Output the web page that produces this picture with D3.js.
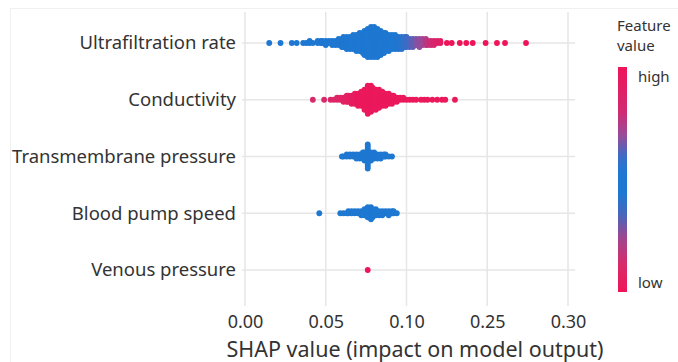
<!DOCTYPE html>
<html>
<head>
<meta charset="utf-8">
<script src="https://cdn.jsdelivr.net/npm/d3@7"></script>
<style>
  body { margin: 0; background: #fff; }
  svg { display: block; font-family: "Noto Sans", "Open Sans", sans-serif; }
</style>
</head>
<body>
<div id="chart"></div>
<script>
// features, top row first
const features = ["Ultrafiltration rate", "Conductivity", "Transmembrane pressure", "Blood pump speed", "Venous pressure"];

// x ticks (the printed labels are not evenly spaced values)
const tickValues = [0, 0.05, 0.10, 0.15, 0.20];
const tickLabels = ["0.00", "0.05", "0.10", "0.25", "0.30"];

// SHAP values read off the swarm + how many dots are stacked at each one
// feature values: 0 = low, 1 = high
const ufShap = [0.015,0.022,0.029,0.032,0.036,0.038,0.040,0.042,0.045,0.047,0.048,0.050,0.052,0.054,0.056,0.058,0.060,0.061,0.063,0.065,
  0.067,0.069,0.071,0.073,0.074,0.076,0.078,0.080,0.082,0.084,0.086,0.087,0.089,0.091,0.093,0.095,0.097,0.099,0.100,0.102,
  0.104,0.106,0.108,0.110,0.112,0.113,0.115,0.117,0.119,0.121,0.125,0.128,0.133,0.137,0.141,0.149,0.156,0.161,0.174];
const ufCount = [1,1,1,1,1,1,2,1,2,2,2,3,2,3,3,4,5,6,7,7,
  8,9,10,11,13,15,16,16,15,13,11,10,9,8,8,7,7,6,6,5,
  5,4,5,4,4,3,3,3,2,2,1,1,1,1,1,1,1,1,1];
const ufFeature = [0.5,0.5,0.5,0.5,0.5,0.5,0.5,0.5,0.5,0.5,0.5,0.5,0.5,0.5,0.5,0.5,0.5,0.5,0.5,0.5,
  0.5,0.5,0.5,0.5,0.5,0.5,0.5,0.5,0.5,0.5,0.5,0.5,0.5,0.5,0.52,0.54,0.56,0.58,0.6,0.62,
  0.64,0.67,0.69,0.71,0.74,0.77,0.8,0.84,0.88,0.92,1,1,1,1,1,1,1,1,1];

const cdShap = [0.042,0.049,0.053,0.055,0.057,0.059,0.061,0.063,0.064,0.066,0.068,0.070,0.072,0.074,0.076,0.078,0.079,0.081,0.083,0.085,
  0.087,0.089,0.091,0.092,0.094,0.096,0.098,0.100,0.102,0.104,0.106,0.109,0.111,0.113,0.116,0.119,0.122,0.124,0.130];
const cdCount = [1,1,1,1,2,2,3,4,4,5,6,7,8,11,15,14,12,11,10,8,
  7,6,5,4,3,2,2,1,1,1,1,1,1,1,1,1,1,1,1];
const cdFeature = [0.12,0.12,0.1,0.1,0.1,0.08,0.08,0.06,0.06,0.05,0.04,0.02,0.02,0.02,0.02,0.02,0.02,0.02,0.02,0.02,
  0.02,0.02,0.02,0.02,0.02,0.02,0.02,0.02,0.02,0.02,0.02,0.02,0.02,0.02,0.02,0.02,0.02,0.02,0.02];

const tmShap = [0.060,0.061,0.063,0.065,0.067,0.069,0.071,0.073,0.074,0.076,0.078,0.080,0.082,0.084,0.086,0.087,0.089,0.091];
const tmCount = [1,1,2,2,2,3,3,4,5,13,5,4,3,3,2,2,1,1];
const tmFeature = 0.5;

const bpShap = [0.046,0.059,0.061,0.063,0.064,0.066,0.068,0.070,0.072,0.074,0.076,0.078,0.079,0.081,0.083,0.085,0.087,0.089,0.091,0.092,0.094];
const bpCount = [1,1,1,1,2,2,2,2,3,4,6,7,5,4,3,3,2,3,2,2,1];
const bpFeature = 0.5;

const vpShap = [0.076];
const vpCount = [1];
const vpFeature = 1;

const rows = [
  {name: features[0], shap: ufShap, count: ufCount, feat: ufFeature},
  {name: features[1], shap: cdShap, count: cdCount, feat: cdFeature},
  {name: features[2], shap: tmShap, count: tmCount, feat: tmFeature},
  {name: features[3], shap: bpShap, count: bpCount, feat: bpFeature},
  {name: features[4], shap: vpShap, count: vpCount, feat: vpFeature}
];

const width = 678, height = 362;
const textColor = "#333";
const gridColor = "#e6e6e6";

const svg = d3.select("#chart").append("svg")
  .attr("width", width)
  .attr("height", height);

// faint outer frame
svg.append("path")
  .attr("d", "M10.5,400 V8.5 H700")
  .attr("fill", "none")
  .attr("stroke", "#f0f0f0");

const x = d3.scaleLinear().domain([0, 0.2]).range([245, 568]);
const y = d3.scalePoint().domain(features).range([43, 270]);

// colour map: low -> red, middle -> blue, high -> red (s runs top->bottom of the bar)
const stopPos = [0, 0.2, 0.3, 0.4, 0.47, 0.56, 0.66, 0.76, 0.88, 1];
const stopCol = ["#ef1459", "#d02a72", "#9a4a98", "#3a6dc6", "#1e78d2", "#1e78d2", "#4a66ba", "#a0468f", "#d82a6a", "#ef1459"];
const barColor = d3.scaleLinear().domain(stopPos).range(stopCol).interpolate(d3.interpolateRgb);
const color = t => barColor(1 - t);

// grid
svg.append("g").selectAll("line")
  .data(tickValues)
  .enter().append("line")
  .attr("x1", d => x(d)).attr("x2", d => x(d))
  .attr("y1", 12).attr("y2", 306)
  .attr("stroke", gridColor)
  .attr("stroke-width", 1.5);

svg.append("g").selectAll("line")
  .data(features)
  .enter().append("line")
  .attr("x1", 242).attr("x2", 575)
  .attr("y1", d => y(d)).attr("y2", d => y(d))
  .attr("stroke", gridColor)
  .attr("stroke-width", 1.5);

// x axis
const xAxis = svg.append("g")
  .attr("transform", "translate(0,306)")
  .call(d3.axisBottom(x).tickValues(tickValues).tickSize(0)
    .tickFormat((d, i) => tickLabels[i]));
xAxis.select(".domain").remove();
xAxis.selectAll("text")
  .attr("y", 16)
  .attr("dy", "0.35em")
  .attr("fill", textColor)
  .style("font-size", "18px")
  .style("font-family", "Noto Sans, sans-serif");

svg.append("text")
  .attr("x", 415)
  .attr("y", 349)
  .attr("dy", "0.35em")
  .attr("text-anchor", "middle")
  .attr("fill", textColor)
  .style("font-size", "21.5px")
  .text("SHAP value (impact on model output)");

// y axis labels
const yAxis = svg.append("g")
  .attr("transform", "translate(242,0)")
  .call(d3.axisLeft(y).tickSize(0).tickPadding(6));
yAxis.select(".domain").remove();
yAxis.selectAll("text")
  .attr("fill", textColor)
  .style("font-size", "18.5px")
  .style("font-family", "Noto Sans, sans-serif");

// beeswarm: dots with the same value stack alternately up / down
const step = 2, radius = 2.9;
const dots = [];
rows.forEach(row => {
  row.shap.forEach((v, i) => {
    const f = Array.isArray(row.feat) ? row.feat[i] : row.feat;
    for (let k = 0; k < row.count[i]; k++) {
      const off = Math.ceil(k / 2) * (k % 2 ? 1 : -1);
      dots.push({x: x(v), y: y(row.name) - off * step, f: f});
    }
  });
});

svg.append("g").selectAll("circle")
  .data(dots)
  .enter().append("circle")
  .attr("cx", d => d.x)
  .attr("cy", d => d.y)
  .attr("r", radius)
  .attr("fill", d => color(d.f));

// colour bar legend
const grad = svg.append("defs").append("linearGradient")
  .attr("id", "fv")
  .attr("x1", 0).attr("y1", 0).attr("x2", 0).attr("y2", 1);
grad.selectAll("stop")
  .data(stopPos)
  .enter().append("stop")
  .attr("offset", d => d)
  .attr("stop-color", (d, i) => stopCol[i]);

svg.append("rect")
  .attr("x", 618).attr("y", 67)
  .attr("width", 9).attr("height", 225)
  .attr("fill", "url(#fv)");

const legendText = [
  {t: "Feature", x: 617, y: 26},
  {t: "value", x: 617, y: 46},
  {t: "high", x: 638, y: 77},
  {t: "low", x: 638, y: 283}
];
svg.append("g").selectAll("text")
  .data(legendText)
  .enter().append("text")
  .attr("x", d => d.x)
  .attr("y", d => d.y)
  .attr("dy", "0.35em")
  .attr("fill", textColor)
  .style("font-size", "15px")
  .text(d => d.t);
</script>
</body>
</html>
